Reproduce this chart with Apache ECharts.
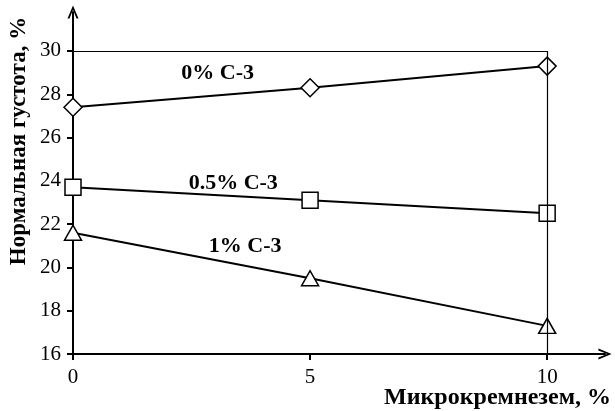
<!DOCTYPE html>
<html>
<head>
<meta charset="utf-8">
<script src="https://cdn.jsdelivr.net/npm/echarts@6/dist/echarts.min.js"></script>
<style>
html,body{margin:0;padding:0;background:#fff;}
#container{width:615px;height:411px;}
</style>
</head>
<body>
<div id="container"></div>
<script>
var xValues = [0, 5, 10];
var xTicks = [0, 5, 10];
var yTicks = [16, 18, 20, 22, 24, 26, 28, 30];
var s0 = [27.4, 28.3, 29.3];     // 0% С-3
var s05 = [23.7, 23.1, 22.5];    // 0.5% С-3
var s1 = [21.6, 19.5, 17.3];     // 1% С-3
var seriesNames = ['0% С-3', '0.5% С-3', '1% С-3'];
var labelPos = [[3.05, 28.98], [3.38, 23.9], [3.63, 20.97]];

function pairs(ys) {
	var out = [];
	for (var i = 0; i < xValues.length; i++) {
		out.push([xValues[i], ys[i]]);
	}
	return out;
}

var font = '"Liberation Serif", "Times New Roman", serif';
var chevron = 'path://M5,0 L10,12 L8.2,12 L5,4 L1.8,12 L0,12 Z';

var dom = document.getElementById('container');
var myChart = echarts.init(dom);

function makeSeries(name, ys, symbol, size, idx) {
	return {
		name: name,
		type: 'line',
		data: pairs(ys),
		symbol: symbol,
		symbolSize: size,
		showAllSymbol: true,
		lineStyle: { color: '#000', width: 2 },
		itemStyle: { color: '#fff', borderColor: '#000', borderWidth: 1.5 },
		z: 3,
		animation: false,
		markPoint: {
			symbol: 'circle',
			symbolSize: 1,
			itemStyle: { color: 'rgba(0,0,0,0)' },
			data: [{
				coord: labelPos[idx],
				label: {
					show: true,
					position: 'inside',
					formatter: name,
					color: '#000',
					fontFamily: font,
					fontWeight: 'bold',
					fontSize: 22
				}
			}]
		}
	};
}

var option = {
	backgroundColor: '#fff',
	animation: false,
	grid: { left: 73, right: 10, top: 12, bottom: 57 },
	xAxis: {
		type: 'value',
		min: 0,
		max: 11.22,
		interval: 5,
		splitLine: { show: false },
		axisLine: {
			lineStyle: { color: '#000', width: 2 },
			symbol: ['none', chevron],
			symbolSize: [11, 15]
		},
		axisTick: { customValues: xTicks, length: 6, lineStyle: { color: '#000', width: 2 } },
		axisLabel: {
			customValues: xTicks,
			color: '#000',
			fontFamily: font,
			fontSize: 21,
			margin: 13
		}
	},
	yAxis: {
		type: 'value',
		min: 16,
		max: 31.8,
		interval: 2,
		splitLine: { show: false },
		axisLine: {
			lineStyle: { color: '#000', width: 2 },
			symbol: ['none', chevron],
			symbolSize: [11, 15]
		},
		axisTick: { customValues: yTicks, length: 6, lineStyle: { color: '#000', width: 2 } },
		axisLabel: {
			customValues: yTicks,
			color: '#000',
			fontFamily: font,
			fontSize: 21,
			margin: 12
		}
	},
	series: [
		makeSeries(seriesNames[0], s0, 'diamond', [18, 18], 0),
		makeSeries(seriesNames[1], s05, 'rect', [16, 16], 1),
		makeSeries(seriesNames[2], s1, 'triangle', [17, 15], 2),
		{
			type: 'line',
			data: [],
			silent: true,
			markLine: {
				symbol: 'none',
				silent: true,
				label: { show: false },
				lineStyle: { color: '#000', width: 1.2, type: 'solid' },
				data: [
					[{ coord: [0, 30] }, { coord: [10, 30] }],
					[{ coord: [10, 16] }, { coord: [10, 30] }]
				]
			}
		}
	],
	graphic: [
		{
			type: 'text',
			x: 19,
			y: 141,
			rotation: Math.PI / 2,
			style: {
				text: 'Нормальная густота, %',
				font: 'bold 23px ' + font,
				fill: '#000',
				textAlign: 'center',
				textVerticalAlign: 'middle'
			}
		},
		{
			type: 'text',
			x: 611,
			y: 398,
			style: {
				text: 'Микрокремнезем, %',
				font: 'bold 24px ' + font,
				fill: '#000',
				textAlign: 'right',
				textVerticalAlign: 'middle'
			}
		}
	]
};

if (option && typeof option === 'object') {
	myChart.setOption(option, true);
}
</script>
</body>
</html>
